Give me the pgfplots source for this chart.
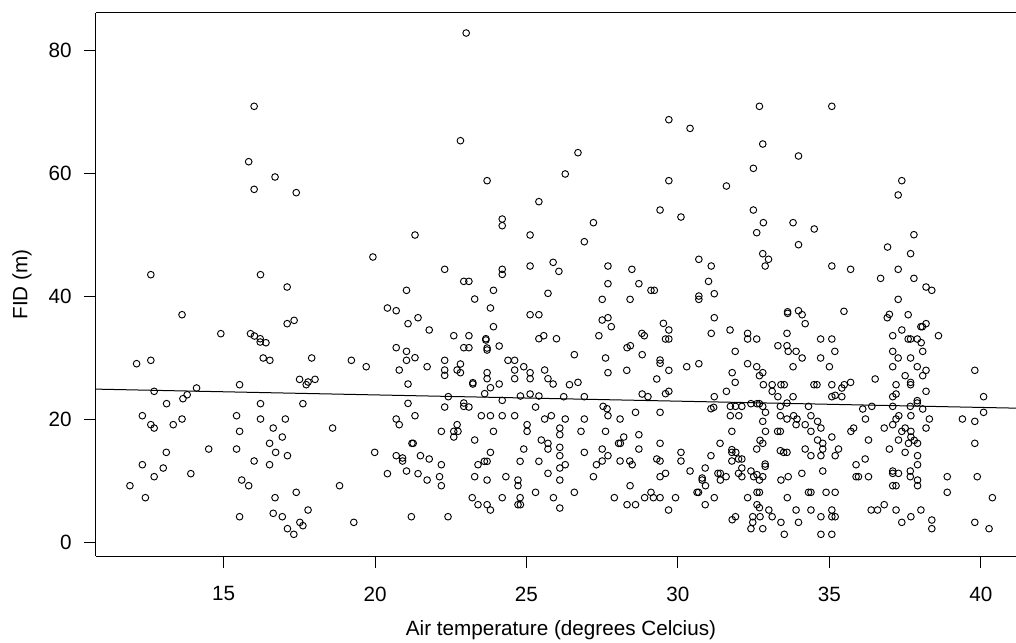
\documentclass[border=0pt]{standalone}
\usepackage{fontspec}
\setmainfont{Liberation Sans}
\usepackage{pgfplots}
\usepackage{pgfplotstable}
\pgfplotsset{compat=1.18}

% Flight initiation distance against air temperature
\pgfplotstableread{
temp fid
16.01 70.96
15.83 61.94
16.70 59.45
16.01 57.44
17.40 56.90
23.01 82.90
22.82 65.36
23.70 58.85
25.41 55.43
32.69 70.96
29.70 68.78
30.40 67.37
32.80 64.82
26.70 63.41
32.49 60.86
26.28 59.94
29.70 58.85
31.60 57.98
29.41 54.07
32.49 54.07
35.08 70.96
33.98 62.87
37.39 58.85
37.27 56.52
12.60 43.54
16.22 43.54
17.10 41.53
13.63 37.02
14.91 33.93
17.10 35.56
17.33 36.10
15.89 33.93
16.02 33.55
16.21 33.11
16.21 32.57
16.40 32.46
16.31 29.97
16.53 29.59
17.91 29.97
12.13 29.04
12.60 29.59
17.51 26.49
18.02 26.49
17.73 25.62
17.79 26.06
15.53 25.62
14.11 25.08
12.71 24.54
13.80 23.99
13.66 23.34
24.20 52.60
24.20 51.52
21.32 50.00
25.12 50.00
19.93 46.42
22.30 44.41
24.20 44.41
24.20 43.59
25.12 44.95
25.88 45.55
26.07 44.08
22.93 42.45
23.10 42.45
21.04 40.99
23.91 40.99
23.29 39.57
25.71 40.50
23.81 38.11
20.41 38.11
20.70 37.67
25.12 37.02
25.41 37.02
21.42 36.53
21.09 35.56
21.79 34.53
23.91 35.07
22.60 33.60
23.10 33.60
23.66 33.11
23.66 32.90
23.70 31.59
23.70 31.27
25.57 33.60
25.41 33.11
25.99 33.11
22.93 31.65
23.10 31.65
24.10 31.92
20.70 31.65
21.04 31.05
21.04 29.59
21.32 30.02
19.22 29.59
19.71 28.55
20.80 28.01
21.72 28.55
22.30 29.59
22.30 28.01
22.30 27.14
22.71 28.01
22.82 28.99
22.82 27.58
23.70 27.58
23.70 26.60
24.39 29.59
24.61 29.59
24.91 28.55
24.61 28.01
24.61 26.60
25.12 27.58
25.12 26.60
25.60 28.01
25.71 26.60
25.88 25.73
21.09 25.73
23.23 25.95
23.23 25.73
23.81 25.13
24.10 25.73
23.62 24.16
22.42 23.67
24.80 23.78
25.12 24.10
25.41 23.78
30.10 52.93
27.21 52.01
32.82 52.01
32.60 50.38
26.91 48.91
30.69 46.04
31.10 44.95
27.69 44.95
28.48 44.41
32.80 46.96
32.99 46.04
32.88 44.95
27.69 42.07
28.71 42.07
31.01 42.45
29.11 40.99
29.22 40.99
27.50 39.52
28.42 39.52
30.69 40.06
30.69 39.52
31.20 40.44
33.62 37.24
33.62 37.50
27.69 36.53
27.50 36.15
27.80 35.07
31.20 36.53
29.52 35.61
29.70 34.53
27.39 33.60
28.81 33.98
28.89 33.60
29.59 33.06
29.70 33.06
31.10 33.98
31.72 34.53
32.30 33.98
32.30 33.06
32.60 33.06
33.60 33.98
33.30 31.97
33.60 31.97
33.64 31.05
28.32 31.65
28.43 31.97
28.82 30.51
26.58 30.51
27.61 29.97
27.69 27.58
28.31 27.96
29.41 29.64
29.41 29.10
29.70 27.96
30.29 28.55
30.69 29.04
31.89 31.05
32.30 29.04
32.60 28.55
31.79 27.58
32.80 27.58
32.69 27.09
31.89 26.00
32.82 25.62
33.11 25.62
33.40 25.62
33.51 25.62
33.11 24.54
33.30 23.67
26.42 25.62
26.70 26.00
29.30 26.55
29.70 24.54
29.59 24.16
28.82 24.10
26.23 23.67
26.91 23.67
29.01 23.67
31.20 23.67
31.60 24.54
33.80 52.01
34.50 50.98
33.98 48.42
37.79 50.05
36.92 48.04
37.68 46.96
35.08 44.95
35.70 44.41
37.27 44.41
36.69 42.94
37.79 42.94
38.19 41.53
38.38 40.99
37.27 39.52
33.98 37.67
34.10 37.02
34.20 35.56
35.48 37.57
36.98 37.08
36.91 36.53
37.60 37.02
38.19 35.56
38.07 35.07
38.02 35.07
37.39 34.53
37.09 33.60
38.60 33.60
34.71 33.06
35.08 33.06
37.60 33.06
37.68 33.06
37.90 33.06
38.03 32.46
35.18 31.05
33.90 31.05
34.10 29.97
34.71 29.97
37.09 31.05
37.27 29.97
37.68 29.97
38.08 31.05
33.80 28.55
35.00 28.55
37.09 28.55
37.90 28.55
38.19 27.96
38.08 27.09
37.50 27.09
39.80 27.96
36.51 26.55
34.49 25.62
34.59 25.62
35.08 25.62
35.41 25.08
35.49 25.62
35.70 26.00
37.20 25.62
37.68 26.00
37.68 25.62
38.19 24.54
35.08 23.67
35.19 23.89
35.41 23.67
37.09 23.67
37.20 24.10
40.09 23.67
33.80 23.67
13.12 22.53
16.22 22.53
17.62 22.53
12.32 20.57
12.60 19.11
12.71 18.56
13.34 19.11
13.63 20.03
15.43 20.57
15.53 18.02
16.22 20.03
16.64 18.56
17.04 20.03
16.94 17.10
16.52 16.07
16.72 14.60
17.11 14.06
16.52 12.59
18.60 18.56
13.11 14.60
14.51 15.14
15.43 15.14
16.01 13.19
12.32 12.59
13.01 12.05
12.71 10.64
13.92 11.13
11.91 9.17
12.42 7.22
15.60 10.09
15.83 9.17
16.70 7.22
17.40 8.09
17.79 5.21
15.53 4.12
16.64 4.67
16.94 4.12
17.52 3.20
17.62 2.66
17.11 2.17
17.32 1.25
24.20 23.07
21.09 22.58
22.30 21.98
22.93 22.64
22.93 22.09
23.10 21.98
25.30 21.98
23.51 20.57
23.81 20.57
24.20 20.57
24.61 20.57
25.60 20.03
25.82 20.57
20.70 20.03
20.80 19.11
21.32 20.57
22.19 18.02
22.60 18.02
22.71 19.11
22.74 18.02
22.60 17.10
23.91 18.02
25.02 19.11
25.02 18.02
26.10 18.56
26.10 17.48
26.10 15.42
26.10 14.06
26.10 12.05
26.10 10.09
26.10 5.53
25.49 16.61
25.71 16.07
25.71 15.14
24.91 15.14
23.29 16.61
23.81 14.60
21.26 16.07
21.22 16.07
19.99 14.60
20.70 14.06
20.91 13.68
20.91 13.19
21.50 14.06
21.79 13.52
22.19 12.59
23.40 12.59
23.61 13.14
23.70 13.14
24.79 13.14
25.41 13.14
20.41 11.13
21.04 11.56
21.42 11.13
21.72 10.09
22.13 10.64
22.19 9.17
23.29 10.64
23.70 10.09
24.32 10.64
24.72 10.09
24.72 9.17
25.71 11.18
25.30 8.09
25.89 7.22
18.83 9.17
23.21 7.22
23.40 6.08
23.70 6.08
23.81 5.21
24.20 7.22
24.79 7.22
24.72 6.08
24.80 6.08
19.30 3.20
21.20 4.12
22.41 4.12
27.53 22.09
27.66 21.71
27.69 20.57
28.09 20.03
28.60 21.12
29.41 21.12
31.09 21.71
31.18 21.93
31.73 22.09
31.90 22.09
32.11 22.09
32.41 22.53
32.61 22.53
32.69 22.53
32.80 22.09
33.38 22.09
33.60 22.64
31.73 20.57
32.01 20.57
32.89 21.12
33.38 20.57
33.60 20.03
32.80 19.65
26.28 20.03
26.91 20.03
26.80 18.02
27.61 18.02
31.78 18.02
32.89 18.02
33.29 18.02
33.38 18.02
28.71 17.48
28.21 17.10
28.04 16.07
28.10 16.07
29.41 16.07
31.39 16.07
32.71 16.56
32.80 16.07
27.50 15.14
28.71 15.14
26.91 14.60
30.10 14.60
31.78 15.04
31.78 14.60
31.91 14.60
32.60 15.14
33.38 14.87
33.49 14.60
33.60 14.60
27.69 14.06
27.50 13.19
27.31 12.59
28.09 13.19
28.41 13.19
28.49 12.59
29.30 13.52
29.41 13.19
30.10 13.19
31.09 14.06
31.78 13.19
32.00 13.52
32.11 13.52
32.88 12.32
32.88 12.70
26.28 12.59
32.11 12.05
27.21 10.64
29.41 10.64
29.59 11.18
30.40 11.56
30.90 12.05
31.32 11.18
31.40 11.18
31.59 10.64
31.40 10.09
30.80 10.42
30.80 10.09
30.91 9.17
32.00 11.18
32.11 10.64
32.41 11.56
32.50 10.64
32.61 10.97
32.80 10.64
32.69 10.09
33.40 10.09
33.64 10.64
28.42 9.17
26.58 8.09
27.90 7.22
28.32 6.08
28.60 6.08
28.90 7.22
29.11 8.09
29.19 7.22
29.41 7.22
29.69 5.21
29.92 7.22
30.63 8.09
30.68 8.09
31.20 7.22
30.90 6.08
32.30 7.22
32.61 8.09
32.69 8.09
32.61 6.08
32.69 5.59
33.00 5.21
33.61 7.22
31.79 3.63
31.90 4.12
32.47 4.12
32.71 4.12
32.47 3.20
32.41 2.17
32.80 2.17
33.11 4.12
33.40 3.20
33.51 1.25
37.90 23.02
37.90 22.64
34.31 22.09
36.10 21.66
36.40 22.09
37.09 22.09
37.67 22.09
38.08 21.66
40.09 21.12
33.82 20.57
33.93 20.03
33.90 19.11
34.39 20.57
34.20 19.11
34.61 19.65
34.72 18.56
34.39 18.02
36.19 20.03
37.20 20.03
37.29 20.57
37.09 19.11
37.69 20.57
38.30 20.03
38.19 18.56
36.81 18.56
35.80 18.56
35.71 18.02
37.39 18.02
37.50 18.56
37.69 18.02
37.69 17.10
37.80 16.56
37.91 16.07
39.39 20.03
39.80 19.65
39.80 16.07
35.08 17.10
34.61 16.61
34.78 16.07
34.78 15.14
36.29 16.61
37.28 16.61
37.61 16.07
36.98 15.14
34.20 15.14
34.39 14.06
34.72 14.06
35.19 14.06
35.30 15.14
37.50 14.60
37.91 14.06
37.91 12.59
36.18 13.52
35.88 12.59
34.78 11.56
34.09 11.18
35.88 10.64
35.96 10.64
36.29 10.64
37.09 11.56
37.09 11.18
37.28 11.18
37.67 11.56
37.67 10.64
37.91 10.09
37.91 9.17
37.09 9.17
37.20 9.17
38.89 10.64
39.88 10.64
34.31 8.09
34.39 8.09
34.89 8.09
35.19 8.09
38.89 8.09
40.38 7.22
33.90 5.21
34.39 5.21
35.08 5.21
34.72 4.12
35.08 4.12
35.19 4.12
33.98 3.20
36.38 5.21
36.59 5.21
36.81 6.08
37.20 5.21
37.39 3.20
37.69 4.12
38.02 5.21
38.38 3.58
38.38 2.17
39.80 3.20
40.27 2.17
34.72 1.25
35.08 1.25
}\fiddata

\begin{document}
\begin{tikzpicture}
\useasboundingbox (-71.775pt,-64.5pt) rectangle (690.225pt,417pt);
\begin{axis}[
  at={(0pt,0pt)}, anchor=south west,
  scale only axis,
  width=690.225pt, height=407.25pt,
  xmin=10.78, xmax=41.16,
  ymin=-2.28, ymax=86.16,
  axis x line*=bottom, axis y line*=left,
  axis line style={black, line width=0.75pt},
  xtick={15,20,25,30,35,40},
  ytick={0,20,40,60,80},
  tick align=outside,
  major tick length=9pt,
  tick style={black, line width=0.75pt},
  /pgf/number format/assume math mode=true,
  tick label style={font=\fontsize{15.5}{18}\selectfont},
  label style={font=\fontsize{15.5}{18}\selectfont},
  xticklabel style={yshift=-10.5pt},
  yticklabel style={xshift=-5.5pt},
  xlabel={Air temperature (degrees Celcius)},
  ylabel={FID (m)},
  xlabel style={at={(axis description cs:0.5056,0)}, anchor=center, yshift=-55.5pt},
  ylabel style={at={(axis description cs:-0.0801,0.5)}, anchor=center},
  clip=false,
]
\draw[black, line width=0.75pt] (rel axis cs:0,1) -- (rel axis cs:1,1);
\addplot[only marks, mark=o, mark size=2.5pt, mark options={line width=0.7pt, black}]
  table[x=temp, y=fid] {\fiddata};
\addplot[black, line width=0.75pt] coordinates {(10.78,24.9) (41.16,21.8)};
\end{axis}
\end{tikzpicture}
\end{document}
